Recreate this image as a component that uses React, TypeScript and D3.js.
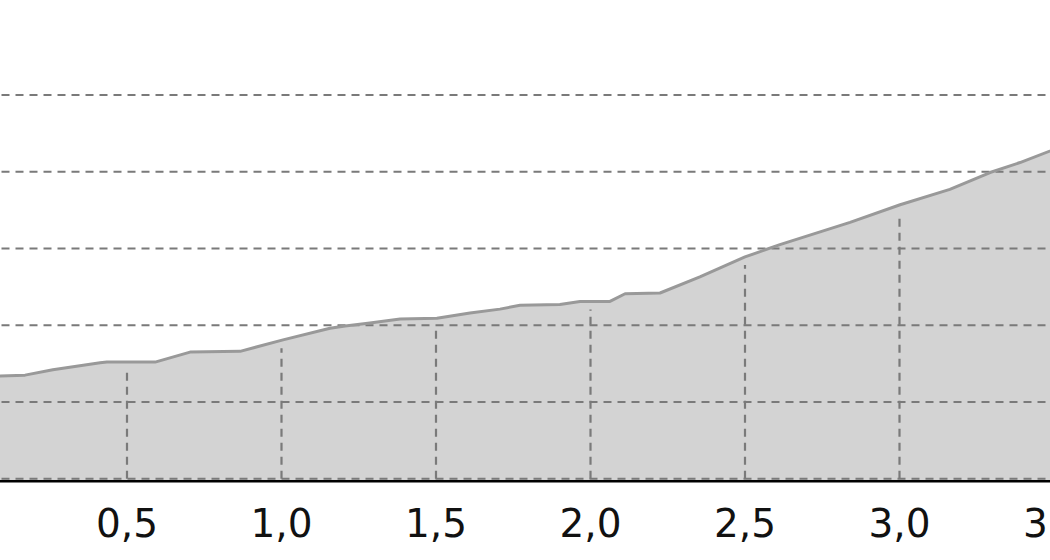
import React from "react";
import * as d3 from "d3";

const distances = [0, 0.089, 0.17, 0.26, 0.413, 0.435, 0.591, 0.704, 0.866, 1.005, 1.157, 1.206, 1.286, 1.384, 1.503, 1.61, 1.707, 1.772, 1.901, 1.966, 2.063, 2.112, 2.225, 2.354, 2.5, 2.613, 2.84, 3.002, 3.163, 3.293, 3.39, 3.519];
const elevations = [113.1, 113.4, 113.5, 114.2, 115.1, 115.2, 115.2, 116.5, 116.6, 118.1, 119.6, 119.9, 120.3, 120.8, 120.9, 121.6, 122.1, 122.6, 122.7, 123.1, 123.1, 124.1, 124.2, 126.3, 128.9, 130.5, 133.4, 135.7, 137.7, 139.9, 141.2, 143.2];
const xTicks = [0.5, 1.0, 1.5, 2.0, 2.5, 3.0, 3.5];
const yTicks = [100, 110, 120, 130, 140, 150];

const W = 1050;
const H = 560;

export default function App() {
  const x = d3.scaleLinear().domain([0, 3.5]).range([-27.5, 1054]);
  const y = d3.scaleLinear().domain([100, 150]).range([478.75, 95]);
  const pts = distances.map((d, i) => [d, elevations[i]] as [number, number]);
  const area = d3
    .area<[number, number]>()
    .x((d) => x(d[0]))
    .y0(y(100) + 2)
    .y1((d) => y(d[1]));
  const line = d3
    .line<[number, number]>()
    .x((d) => x(d[0]))
    .y((d) => y(d[1]));
  const interp = (t: number) => {
    const i = d3.bisector((d: number) => d).right(distances, t);
    if (i <= 0) return elevations[0];
    if (i >= distances.length) return elevations[elevations.length - 1];
    const a = distances[i - 1], b = distances[i];
    const k = (t - a) / (b - a);
    return elevations[i - 1] + k * (elevations[i] - elevations[i - 1]);
  };
  const fmt = (v: number) => d3.format(".1f")(v).replace(".", ",");
  const base = y(100);
  return (
    <svg
      width={W}
      height={H}
      style={{ position: "absolute", left: 0, top: 0, background: "#fff" }}
    >
      <path d={area(pts) || ""} fill="#d3d3d3" />
      {yTicks.map((t) => (
        <line
          key={"h" + t}
          x1={0}
          x2={W}
          y1={y(t)}
          y2={y(t)}
          stroke="#7a7a7a"
          strokeWidth={2.2}
          strokeDasharray="8,6"
          strokeDashoffset={-1.5}
        />
      ))}
      {xTicks.map((t) => (
        <line
          key={"v" + t}
          x1={x(t)}
          x2={x(t)}
          y1={base}
          y2={y(interp(t)) + 8}
          stroke="#7a7a7a"
          strokeWidth={2.2}
          strokeDasharray="8,6"
        />
      ))}
      <path
        d={line(pts) || ""}
        fill="none"
        stroke="#999"
        strokeWidth={3}
        strokeLinejoin="round"
      />
      <line x1={0} x2={W} y1={base + 2.5} y2={base + 2.5} stroke="#000" strokeWidth={2.5} />
      {xTicks.map((t) => (
        <text
          key={"l" + t}
          x={x(t)}
          y={537}
          textAnchor="middle"
          fontFamily="DejaVu Sans"
          fontSize={39}
          fill="#111"
        >
          {fmt(t)}
        </text>
      ))}
    </svg>
  );
}
